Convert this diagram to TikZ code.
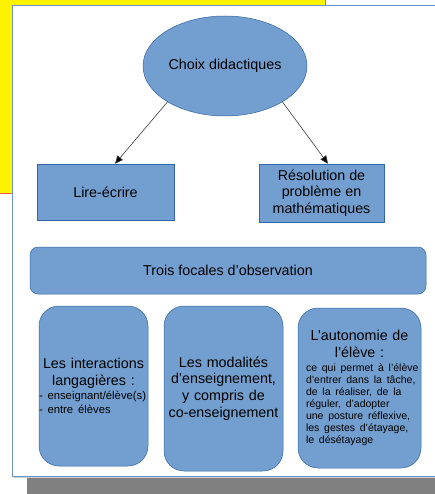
\documentclass[tikz,border=0pt]{standalone}
\usepackage{fontspec}
\setmainfont{Liberation Sans}
\usetikzlibrary{shapes.geometric,arrows.meta,calc}
\definecolor{boxfill}{RGB}{114,159,207}
\definecolor{boxline}{RGB}{52,101,164}
\definecolor{framecol}{RGB}{110,145,200}
\definecolor{redline}{RGB}{240,90,70}
\definecolor{shadowgray}{RGB}{128,128,128}
\definecolor{arrowgray}{RGB}{60,60,60}
\newcommand{\bigtxt}{\fontsize{14.3}{16.6}\selectfont}
\newcommand{\smalltxt}{\fontsize{11.3}{12}\selectfont}
\newcommand{\smallertxt}{\fontsize{10.5}{12}\selectfont}
\tikzset{
  blueshape/.style={fill=boxfill, draw=boxline, line width=0.5pt, inner sep=0pt, font=\bigtxt, text=black},
  plainbox/.style={blueshape, rectangle, align=center},
  roundbox/.style={blueshape, rectangle, rounded corners=20pt, align=center},
  conn/.style={draw=arrowgray, line width=0.6pt, -{Triangle[length=8pt,width=7pt,fill=black]}}
}
\begin{document}
\begin{tikzpicture}[x=1pt,y=-1pt]
\useasboundingbox (0,0) rectangle (435,494);
% background
\fill[yellow] (0,0) rectangle (325.5,193.5);
\draw[redline, line width=1pt] (325.5,0) -- (325.5,193.5) -- (0,193.5);
\fill[shadowgray] (27,478) rectangle (440,500);
\draw[gray!40, line width=1pt] (14,477.2) -- (440,477.2);
\draw[framecol, fill=white, line width=1pt] (12.5,5.5) rectangle (445,476);
% nodes
\node[blueshape, ellipse, minimum width=164pt, minimum height=100pt] (ell) at (225,66) {Choix didactiques};
\node[plainbox, minimum width=137pt, minimum height=56pt] (lire) at (105.5,192) {Lire-écrire};
\node[plainbox, minimum width=125pt, minimum height=58pt] (reso) at (321.5,193) {Résolution de\\problème en\\mathématiques};
\node[blueshape, rectangle, rounded corners=8pt, minimum width=396pt, minimum height=47pt] (trois) at (228,270.5) {Trois focales d'observation};
\node[roundbox, minimum width=109pt, minimum height=160pt, text width=109pt] (b1) at (93.5,386)
  {Les interactions\\langagières :\\[-2pt]
   {\smalltxt\makebox[109pt][l]{- enseignant/élève(s)}}\\[-3pt]
   {\smalltxt\makebox[109pt][l]{- entre élèves}}};
\node[roundbox, minimum width=119pt, minimum height=165pt, text width=119pt] (b2) at (223.5,388.5)
  {Les modalités\\d'enseignement,\\y compris de\\co-enseignement};
\node[roundbox, minimum width=123pt, minimum height=160pt, text width=123pt] (b3) at (359.5,388)
  {L'autonomie de\\l'élève :\\[-3pt]
   {\smallertxt\makebox[107pt][l]{ce qui permet à l'élève}}\\[-4.6pt]
   {\smallertxt\makebox[107pt][l]{d'entrer dans la tâche,}}\\[-4.6pt]
   {\smallertxt\makebox[107pt][l]{de la réaliser, de la}}\\[-4.6pt]
   {\smallertxt\makebox[107pt][l]{réguler, d'adopter}}\\[-4.6pt]
   {\smallertxt\makebox[107pt][l]{une posture réflexive,}}\\[-4.6pt]
   {\smallertxt\makebox[107pt][l]{les gestes d'étayage,}}\\[-4.6pt]
   {\smallertxt\makebox[107pt][l]{le désétayage}}};
% connectors
\draw[conn] (ell.212) -- ([xshift=9.5pt]lire.north);
\draw[conn] (ell.328) -- ([xshift=6.5pt]reso.north);
\end{tikzpicture}
\end{document}
